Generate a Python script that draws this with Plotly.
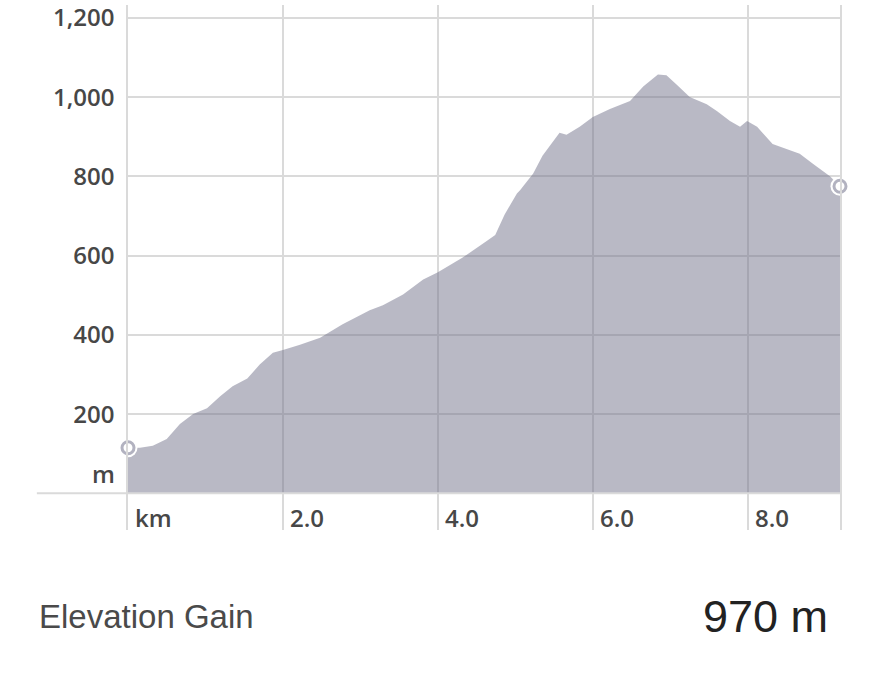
import plotly.graph_objects as go

# elevation profile (distance in km, elevation in m)
distance_km = [0.00, 0.155, 0.32, 0.50, 0.67, 0.84, 1.02, 1.19, 1.35, 1.54, 1.70, 1.87,
               2.00, 2.22, 2.48, 2.77, 3.12, 3.29, 3.55, 3.81, 4.00, 4.15, 4.32, 4.63,
               4.74, 4.86, 5.02, 5.06, 5.23, 5.35, 5.45, 5.57, 5.66, 5.83, 6.00, 6.22,
               6.48, 6.65, 6.84, 6.95, 7.08, 7.25, 7.47, 7.60, 7.77, 7.90, 7.99, 8.12,
               8.32, 8.50, 8.67, 8.84, 9.06, 9.19]
elevation_m = [115, 115, 120, 137, 175, 200, 215, 245, 270, 290, 325, 355,
               362, 375, 393, 427, 462, 475, 502, 540, 558, 575, 595, 637,
               652, 703, 757, 765, 807, 852, 877, 910, 905, 925, 950, 970,
               990, 1027, 1057, 1055, 1032, 1000, 982, 965, 940, 925, 940, 925,
               882, 870, 857, 832, 800, 775]

y_ticks = [200, 400, 600, 800, 1000, 1200]
x_ticks = [2, 4, 6, 8]
x_tick_labels = ["2.0", "4.0", "6.0", "8.0"]
gain_label = "Elevation Gain"
gain_value = "970 m"

GRID = "#dadada"
TICK_FONT = dict(family="Open Sans", size=24, color="#474747", weight=600)

fig = go.Figure()

fig.add_trace(go.Scatter(
    x=distance_km, y=elevation_m,
    mode="lines", fill="tozeroy",
    fillcolor="rgba(108,108,134,0.48)",
    line=dict(width=0, color="rgba(108,108,134,0.48)"),
    hoverinfo="skip"
))

# start / end markers: white halo, then the grey ring
ends_x = [distance_km[0], distance_km[-1]]
ends_y = [elevation_m[0], elevation_m[-1]]
fig.add_trace(go.Scatter(
    x=ends_x, y=ends_y, mode="markers", cliponaxis=False,
    marker=dict(size=19, color="white", line=dict(width=0)),
    hoverinfo="skip"
))
fig.add_trace(go.Scatter(
    x=ends_x, y=ends_y, mode="markers", cliponaxis=False,
    marker=dict(size=12, color="white", line=dict(width=3, color="#b2b2c0")),
    hoverinfo="skip"
))

# baseline, running out to the left under the y labels
fig.add_shape(type="line", xref="paper", yref="y domain",
              x0=-0.128, x1=1, y0=37 / 530, y1=37 / 530,
              line=dict(color=GRID, width=2), layer="above")

# x tick labels sit to the right of their gridlines
fig.add_annotation(x=0, y=0.0245, xref="x", yref="paper", text="km",
                   showarrow=False, xanchor="left", yanchor="middle", xshift=5,
                   font=TICK_FONT)
for v, lab in zip(x_ticks, x_tick_labels):
    fig.add_annotation(x=v, y=0.0245, xref="x", yref="paper", text=lab,
                       showarrow=False, xanchor="left", yanchor="middle", xshift=5,
                       font=TICK_FONT)

# unit label for the y axis
fig.add_annotation(x=0, y=50, xref="paper", yref="y", text="m",
                   showarrow=False, xanchor="right", xshift=-11, font=TICK_FONT)

fig.add_annotation(x=-0.128, y=-0.165, xref="paper", yref="paper", text=gain_label,
                   showarrow=False, xanchor="left", yanchor="middle",
                   font=dict(family="Liberation Sans", size=33, color="#4a4a4a"))
fig.add_annotation(x=0.986, y=-0.165, xref="paper", yref="paper", text=gain_value,
                   showarrow=False, xanchor="right", yanchor="middle",
                   font=dict(family="Liberation Sans", size=45, color="#222222"))

fig.update_xaxes(
    range=[0, 9.19], tickvals=x_ticks, showticklabels=False,
    showgrid=True, gridcolor=GRID, gridwidth=1.5, zeroline=False, showline=False
)
fig.update_yaxes(
    range=[-92.5, 1232.5], tickvals=y_ticks, tickformat=",",
    showgrid=True, gridcolor=GRID, gridwidth=1.5, zeroline=False,
    showline=True, mirror=True, linecolor=GRID, linewidth=1.5,
    ticks="outside", ticklen=7, tickcolor="rgba(0,0,0,0)", tickfont=TICK_FONT,
    ticklabeloverflow="allow"
)

fig.update_layout(
    width=877, height=675,
    margin=dict(l=128, r=37, t=0, b=145),
    paper_bgcolor="white", plot_bgcolor="white",
    showlegend=False
)

fig.write_html("out.html", config={"displayModeBar": False},
               post_script="document.body.style.margin='0';")
